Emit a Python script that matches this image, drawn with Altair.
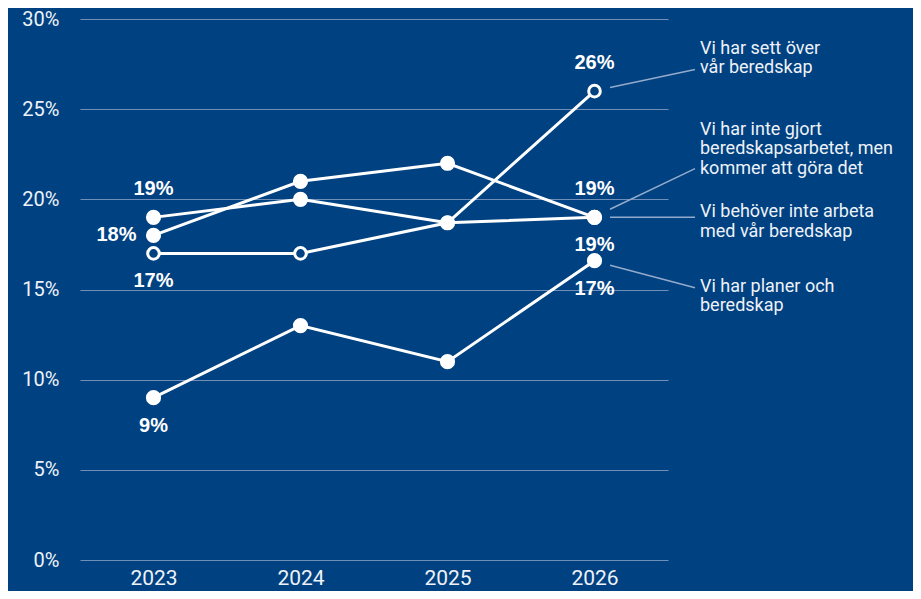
import altair as alt
import pandas as pd

BG = "#004181"

years = ["2023", "2024", "2025", "2026"]

series_names = [
    "Vi har sett över vår beredskap",
    "Vi har inte gjort beredskapsarbetet, men kommer att göra det",
    "Vi behöver inte arbeta med vår beredskap",
    "Vi har planer och beredskap",
]
series_values = [
    [17, 17, 18.7, 26],
    [18, 21, 22, 19],
    [19, 20, 18.7, 19],
    [9, 13, 11, 16.6],
]
point_labels = [
    ["17%", "", "", "26%"],
    ["18%", "", "", "19%"],
    ["19%", "", "", "19%"],
    ["9%", "", "", "17%"],
]
label_positions = [
    ["below", "", "", "above"],
    ["left", "", "", "above"],
    ["above", "", "", "below"],
    ["below", "", "", "below"],
]
open_marker = [True, False, False, False]

# right-hand annotation texts and where their leader lines meet them (value units)
annotation_texts = [
    "Vi har sett över\nvår beredskap",
    "Vi har inte gjort\nberedskapsarbetet, men\nkommer att göra det",
    "Vi behöver inte arbeta\nmed vår beredskap",
    "Vi har planer och\nberedskap",
]
annotation_y = [28.34, 23.87, 19.28, 15.14]
leader_start = [26.2, 19.45, 19.0, 16.35]
leader_end = [27.2, 21.7, 19.0, 15.1]

rows = []
for name, vals, labs, poss, op in zip(series_names, series_values, point_labels, label_positions, open_marker):
    for yr, v, lab, pos in zip(years, vals, labs, poss):
        rows.append(dict(series=name, year=yr, value=v, label=lab, pos=pos, open=op))
df = pd.DataFrame(rows)

ann = pd.DataFrame(dict(series=series_names, text=annotation_texts, ty=annotation_y,
                        y0=leader_start, y1=leader_end))

x_enc = alt.X(
    "year:O",
    scale=alt.Scale(type="point", padding=0.5),
    axis=alt.Axis(
        title=None, labelAngle=0, domain=False, ticks=False, grid=False,
        labelFontSize=21, labelColor="#eef2f8", labelFont="Roboto",
        labelPadding=7,
    ),
)
y_enc = alt.Y(
    "value:Q",
    scale=alt.Scale(domain=[0, 30], nice=False, zero=True),
    axis=alt.Axis(
        title=None, values=[0, 5, 10, 15, 20, 25, 30], labelExpr="datum.value + '%'",
        domain=False, ticks=False, grid=True, gridColor="#6f8fb8", gridWidth=1,
        labelFontSize=20, labelColor="#eef2f8", labelFont="Roboto", labelPadding=21,
    ),
)

base = alt.Chart(df).encode(x=x_enc, y=y_enc)

lines = base.mark_line(color="white", strokeWidth=3).encode(detail="series:N")

open_pts = base.transform_filter("datum.open == true").mark_point(
    shape="circle", filled=True, fill=BG, stroke="white", strokeWidth=3, size=135, opacity=1
)
filled_pts = base.transform_filter("datum.open == false").mark_circle(
    color="white", size=230, opacity=1
)

txt_style = dict(font="Liberation Sans", fontSize=20, fontWeight="bold", color="white")
above = base.transform_filter("datum.pos == 'above'").mark_text(dy=-28, **txt_style).encode(text="label:N")
below = base.transform_filter("datum.pos == 'below'").mark_text(dy=28, **txt_style).encode(text="label:N")
left = base.transform_filter("datum.pos == 'left'").mark_text(dx=-17, align="right", **txt_style).encode(text="label:N")

leaders = alt.Chart(ann).mark_rule(color="#93abcc", strokeWidth=1.5).encode(
    x=alt.value(530), x2=alt.value(615), y=alt.Y("y0:Q"), y2="y1:Q"
)
ann_text = alt.Chart(ann).mark_text(
    align="left", baseline="middle", font="Roboto", fontSize=18, color="#eef2f8",
    lineBreak="\n", lineHeight=19.5,
).encode(x=alt.value(620), y=alt.Y("ty:Q"), text="text:N")

chart = (
    alt.layer(lines, open_pts, filled_pts, above, below, left, leaders, ann_text)
    .properties(
        width=588, height=541,
        autosize=alt.AutoSizeParams(type="none"),
        padding={"left": 72, "top": 11, "right": 245, "bottom": 31},
    )
    .configure(background=BG)
    .configure_view(stroke=None)
)

chart.save("out.html", embed_options={"renderer": "svg", "actions": False})
